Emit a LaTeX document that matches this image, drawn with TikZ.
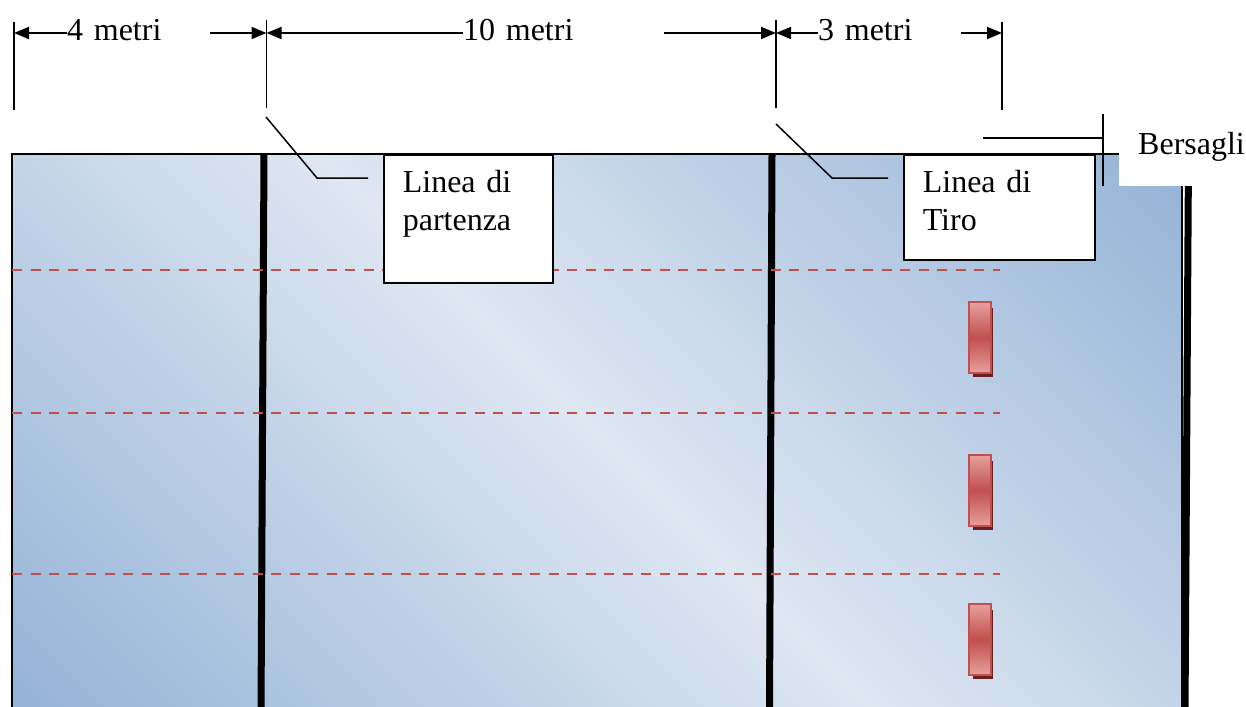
\documentclass[tikz,border=0pt]{standalone}
\usepackage{fontspec}
\setmainfont{Liberation Serif}
\usepackage{tikz}
\usetikzlibrary{
    arrows.meta,
    calc,
    positioning
}
\definecolor{fieldDark}{RGB}{149,179,215}
\definecolor{fieldLight}{RGB}{222,231,242}
\definecolor{laneRed}{RGB}{192,80,77}
\definecolor{targetLight}{RGB}{230,160,158}
\definecolor{targetShadow}{RGB}{105,32,30}
\pgfdeclareverticalshading{fieldshade}{100bp}{color(0bp)=(fieldDark); color(15bp)=(fieldDark); color(50bp)=(fieldLight); color(85bp)=(fieldDark); color(100bp)=(fieldDark)}

\begin{document}
\begin{tikzpicture}[
        x=1pt, y=-1pt,
        font={\fontsize{32}{37.5}\selectfont},
        tick/.style={line width=1.5pt},
        dimarrow/.style={line width=1.8pt, -{Triangle[length=15pt, width=12pt]}},
        dimlabel/.style={anchor=west, inner sep=0pt, align=left, text height=22.4pt, text depth=7pt},
        lane/.style={draw=laneRed, line width=2.4pt, dash pattern=on 10pt off 8.5pt},
        sideline/.style={line width=7pt},
        callout/.style={line width=1.5pt},
        calloutbox/.style={draw, fill=white, line width=1.6pt, anchor=north west, align=left, inner xsep=19pt, inner ysep=16pt, text height=22pt},
        target/.style={draw=laneRed, line width=2pt, top color=targetLight, bottom color=targetLight, middle color=laneRed}
    ]
    \useasboundingbox (0, 0) rectangle (1246, 706);
    \clip (0, 0) rectangle (1246, 706);

    % campo
    \shadedraw[line width=2pt, shading=fieldshade, shading angle=-45] (12, 154) rectangle (1182, 712);
    \draw[sideline] (264, 154) -- (261, 712);
    \draw[sideline] (772, 154) -- (769.5, 712);
    \draw[sideline] (1188.5, 154) -- (1185, 712);
    \foreach \y in {270, 413, 574}
        \draw[lane] (12, \y) -- (1000, \y);
    \foreach \y in {302, 455, 604} {
        \fill[targetShadow] (973, \y + 6) rectangle (993, \y + 75);
        \draw[target] (969, \y) rectangle (991, \y + 71);
    }

    % quote
    \coordinate (m0) at (14, 22);
    \coordinate (m1) at (266.5, 20);
    \coordinate (m2) at (776, 20);
    \coordinate (m3) at (1002, 22);
    \draw[tick] (m0) -- ++(0, 88);
    \draw[tick] (m1) -- ++(0, 88);
    \draw[tick] (m2) -- ++(0, 88);
    \draw[tick] (m3) -- ++(0, 88);
    \node[dimlabel, text width=143pt] (d4) at (67, 33) {4 metri};
    \node[dimlabel, text width=201pt] (d10) at (463, 33) {10 metri};
    \node[dimlabel, text width=143pt] (d3) at (818, 33) {3 metri};
    \draw
    (d4.west) edge[dimarrow] (d4.west -| m0)
    (d4.east) edge[dimarrow] (d4.east -| m1)
    (d10.west) edge[dimarrow] (d10.west -| m1)
    (d10.east) edge[dimarrow] (d10.east -| m2)
    (d3.west) edge[dimarrow] (d3.west -| m2)
    (d3.east) edge[dimarrow] (d3.east -| m3);

    % richiami
    \node[calloutbox, text width=131pt, text depth=74pt] (lp) at (383, 154) {Linea di\\partenza};
    \node[calloutbox, text width=153pt, text depth=51pt] (lt) at (903, 154) {Linea di\\Tiro};
    \coordinate (plp) at (266, 117);
    \coordinate (klp) at (317, 178);
    \coordinate (plt) at (776, 124);
    \coordinate (klt) at (832, 178);
    \draw[callout] (plp) -- (klp) -- ($(lp.north west) + (-15, 24)$);
    \draw[callout] (plt) -- (klt) -- ($(lt.north west) + (-15, 24)$);

    \node[fill=white, anchor=north west, inner xsep=19pt, inner ysep=18pt, text height=22pt, text depth=14pt] (bs) at (1119, 114) {Bersagli};
    \coordinate (pbs) at (983, 138);
    \draw[callout] ($(bs.north west) + (-16, 0)$) -- ($(bs.south west) + (-16, 0)$);
    \draw[callout] ($(bs.north west) + (-16, 24)$) -- (pbs);
\end{tikzpicture}
\end{document}
